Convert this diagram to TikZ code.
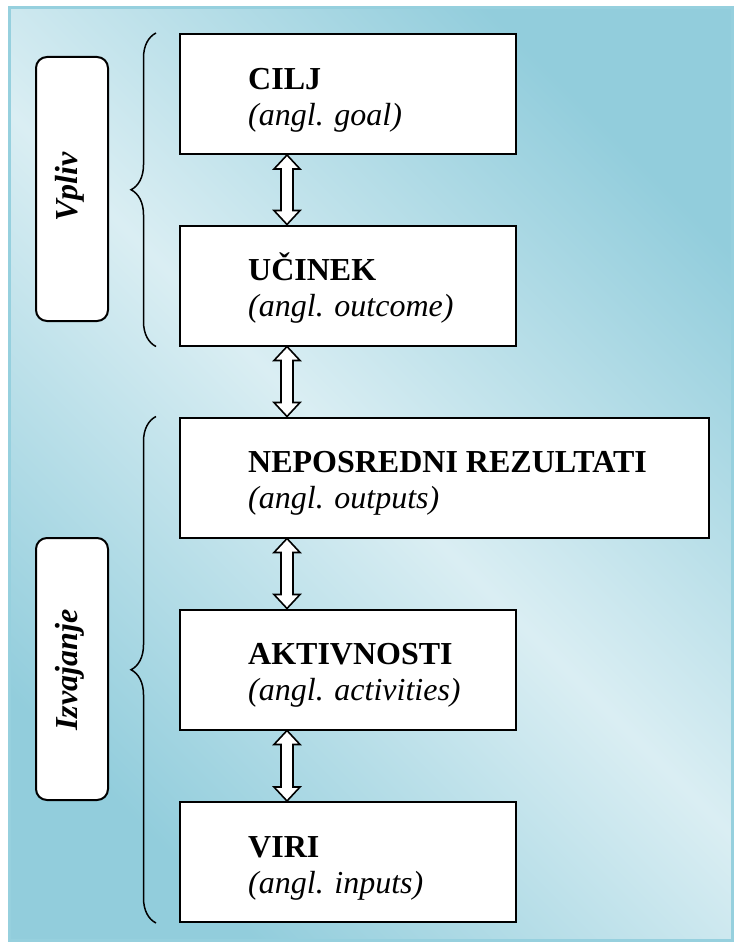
\documentclass[tikz,border=0pt]{standalone}
\usepackage{fontspec}
\setmainfont{Liberation Serif}
\usetikzlibrary{calc,decorations.pathreplacing}
\definecolor{aquadark}{RGB}{146,205,220}
\definecolor{aqualight}{RGB}{218,238,243}
\definecolor{frameline}{RGB}{150,208,222}
\newcommand\blockarr[2]{%
  \draw[blockarrow] ($(#1.south west)+(108,0)$) -- ++(13,14) -- ++(-7,0)
    -- ($(#2.north west)+(114,-14)$) -- ++(7,0) -- ($(#2.north west)+(108,0)$)
    -- ++(-13,-14) -- ++(7,0) -- ($(#1.south west)+(102,14)$) -- ++(-7,0) -- cycle;}
\begin{document}
\begin{tikzpicture}[x=1pt,y=-1pt,
  box/.style={draw=black, line width=2pt, fill=white, inner sep=0pt, anchor=north west, minimum height=120pt},
  lbl/.style={anchor=north west, inner sep=0pt, align=left, font=\fontsize{32}{36}\selectfont},
  sidebox/.style={draw=black, line width=2pt, fill=white, rounded corners=11pt, anchor=north west, minimum width=72pt, inner sep=0pt},
  sidetxt/.style={anchor=base, rotate=90, inner sep=0pt, font=\fontsize{32}{36}\selectfont\bfseries\itshape},
  grp/.style={decorate, decoration={brace, amplitude=25pt}, line width=1.5pt},
  blockarrow/.style={draw=black, line width=1.6pt, fill=white, line join=miter}]
\useasboundingbox (0,0) rectangle (734,942);
\shade[top color=aquadark, bottom color=aquadark, middle color=aqualight, shading angle=-45] (9.5,7.5) rectangle (732.5,940.5);
\draw[frameline, line width=3pt] (9.5,7.5) rectangle (732.5,940.5);

% main boxes
\node[box, minimum width=336pt] (cilj) at (179,33) {};
\node[box, minimum width=336pt] (ucinek) at (179,224.5) {};
\node[box, minimum width=529pt] (neposredni) at (179,416.5) {};
\node[box, minimum width=336pt] (aktivnosti) at (179,608.5) {};
\node[box, minimum width=336pt] (viri) at (179,801) {};

\node[lbl] (ciljt) at ($(cilj.north west)+(69,27)$) {\rule{0pt}{29pt}\textbf{CILJ}\\\textit{(angl. goal)}};
\node[lbl] (ucinekt) at ($(ucinek.north west)+(69,27)$) {\rule{0pt}{29pt}\textbf{UČINEK}\\\textit{(angl. outcome)}};
\node[lbl] (neposrednit) at ($(neposredni.north west)+(69,27)$) {\rule{0pt}{29pt}\textbf{NEPOSREDNI REZULTATI}\\\textit{(angl. outputs)}};
\node[lbl] (aktivnostit) at ($(aktivnosti.north west)+(69,27)$) {\rule{0pt}{29pt}\textbf{AKTIVNOSTI}\\\textit{(angl. activities)}};
\node[lbl] (virit) at ($(viri.north west)+(69,27)$) {\rule{0pt}{29pt}\textbf{VIRI}\\\textit{(angl. inputs)}};

% side labels
\node[sidebox, minimum height=264pt] (vpliv) at (35,56) {};
\node[sidebox, minimum height=262pt] (izvajanje) at (35,537) {};
\node[sidetxt] (vplivt) at (77,187) {Vpliv};
\node[sidetxt] (izvajanjet) at (77,670) {Izvajanje};

% braces
\coordinate (b1s) at ($(ucinek.south west)+(-23,0)$);
\coordinate (b1e) at ($(cilj.north west)+(-23,0)$);
\coordinate (b2s) at ($(viri.south west)+(-23,0)$);
\coordinate (b2e) at ($(neposredni.north west)+(-23,0)$);
\draw[grp] (b1s) -- (b1e);
\draw[grp] (b2s) -- (b2e);

% block arrows
\blockarr{cilj}{ucinek}
\blockarr{ucinek}{neposredni}
\blockarr{neposredni}{aktivnosti}
\blockarr{aktivnosti}{viri}
\end{tikzpicture}
\end{document}
